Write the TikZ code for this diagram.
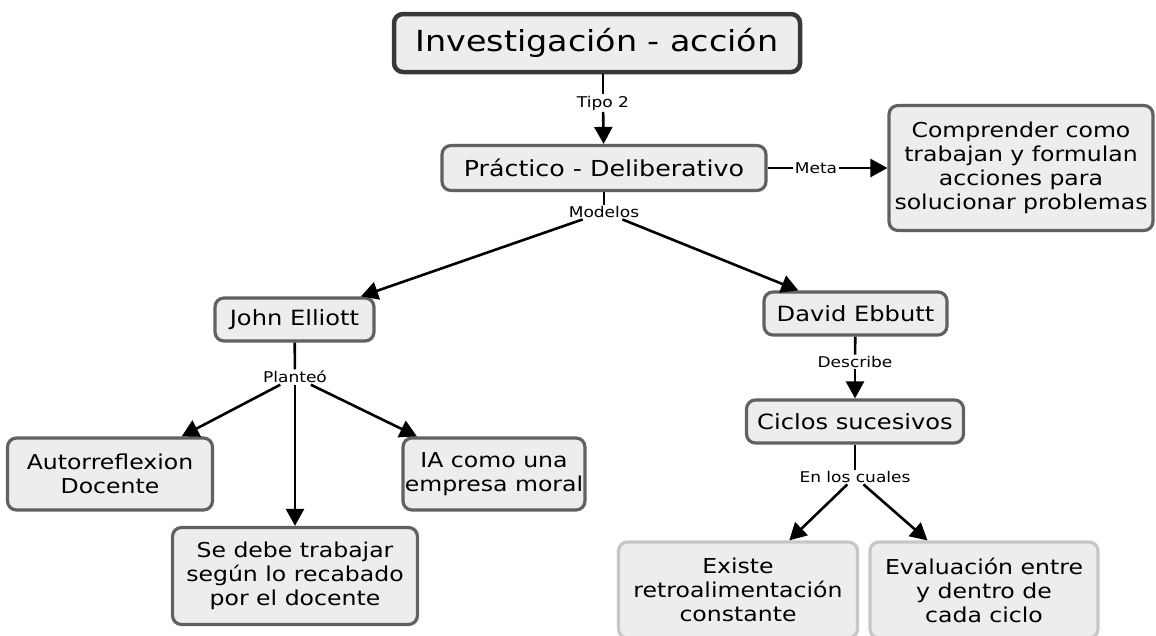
\documentclass[tikz,border=0pt]{standalone}
\usepackage{fontspec}
\setmainfont{DejaVu Sans}[FakeStretch=1.15]
\usetikzlibrary{arrows.meta}

\begin{document}
\begin{tikzpicture}[x=1pt, y=-1pt,
    box/.style={draw=black!62, line width=3.2pt, rounded corners=9pt, fill=black!7,
        align=center, inner sep=0pt, font=\fontsize{20.5}{24}\selectfont},
    pale/.style={box, draw=black!22},
    lbl/.style={inner sep=1.5pt, font=\fontsize{14.8}{16}\selectfont},
    line/.style={line width=2.6pt},
    link/.style={line, -{Triangle[length=17pt, width=18pt]}}]
    \useasboundingbox (0,0) rectangle (1156,635);

    \node[box, draw=black!78, line width=4.5pt, minimum width=406pt, minimum height=58pt,
        font=\fontsize{29}{34}\selectfont] (inv) at (597,43) {Investigación - acción};
    \node[box, minimum width=324pt, minimum height=45pt,
        font=\fontsize{22}{26}\selectfont] (prac) at (604,168) {Práctico - Deliberativo};
    \node[box, minimum width=264pt, minimum height=125pt] (meta) at (1021,168)
        {Comprender como\\trabajan y formulan\\acciones para\\solucionar problemas};
    \node[box, minimum width=159pt, minimum height=43pt, font=\fontsize{21}{24}\selectfont]
        (john) at (294.5,319.5) {John Elliott};
    \node[box, minimum width=183pt, minimum height=43pt, font=\fontsize{21}{24}\selectfont]
        (david) at (855.5,313.5) {David Ebbutt};
    \node[box, minimum width=205pt, minimum height=72pt] (auto) at (110,474) {Autorreflexion\\Docente};
    \node[box, minimum width=182pt, minimum height=72pt] (moral) at (494,474) {IA como una\\empresa moral};
    \node[box, minimum width=245pt, minimum height=97pt] (trabajo) at (295,576)
        {Se debe trabajar\\según lo recabado\\por el docente};
    \node[box, minimum width=217pt, minimum height=43pt, font=\fontsize{21}{24}\selectfont]
        (ciclos) at (855,421.5) {Ciclos sucesivos};
    \node[pale, minimum width=239pt, minimum height=96pt] (retro) at (738,590)
        {Existe\\retroalimentación\\constante};
    \node[pale, minimum width=228pt, minimum height=96pt] (eval) at (984,590)
        {Evaluación entre\\y dentro de\\cada ciclo};

    % labels on the links
    \node[lbl] (tipo) at (603,103) {Tipo 2};
    \node[lbl] (lmeta) at (816,168) {Meta};
    \node[lbl] (modelos) at (604,212) {Modelos};
    \node[lbl] (planteo) at (295,377) {Planteó};
    \node[lbl] (describe) at (855,362) {Describe};
    \node[lbl] (cuales) at (855,477) {En los cuales};

    \draw[line] (inv.south -| tipo) -- (tipo);
    \draw[link] (tipo) -- (prac);
    \draw[line] (prac) -- (lmeta);
    \draw[link] (lmeta) -- (meta);
    \draw[line] (prac) -- (modelos);
    \draw[link] (modelos) -- (john);
    \draw[link] (modelos) -- (david);
    \draw[line] (john) -- (planteo);
    \draw[link] (planteo) -- (auto);
    \draw[link] (planteo) -- (trabajo);
    \draw[link] (planteo) -- (moral);
    \draw[line] (david) -- (describe);
    \draw[link] (describe) -- (ciclos);
    \draw[line] (ciclos) -- (cuales);
    \draw[link] (cuales) -- (retro);
    \draw[link] (cuales) -- (eval);
\end{tikzpicture}
\end{document}
